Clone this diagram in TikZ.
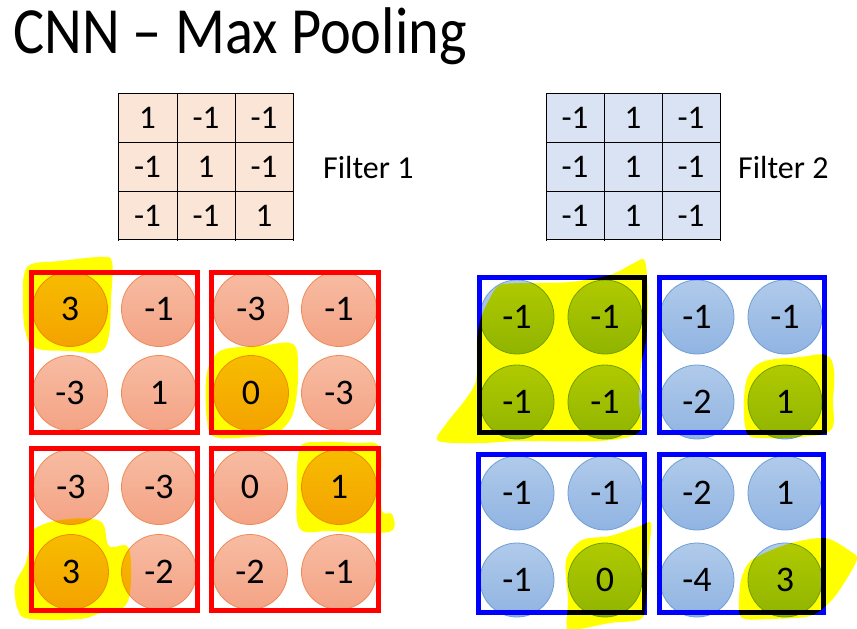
\documentclass[tikz,border=0pt]{standalone}
\usepackage{fontspec}
\setmainfont{Carlito}
\definecolor{rctop}{HTML}{F7BCA2}
\definecolor{rcbot}{HTML}{F4A385}
\definecolor{rcline}{HTML}{EE8A55}
\definecolor{bctop}{HTML}{B0CAEA}
\definecolor{bcbot}{HTML}{90B4E2}
\definecolor{bcline}{HTML}{6E9FD6}
\definecolor{f1fill}{HTML}{FBE5D6}
\definecolor{f2fill}{HTML}{DAE3F3}
\definecolor{hlyellow}{HTML}{FFFF00}
\tikzset{
  rc/.style={circle, minimum size=75pt, inner sep=0pt, draw=rcline, line width=0.8pt,
    top color=rctop, bottom color=rcbot, font=\fontsize{36}{36}\selectfont},
  bc/.style={circle, minimum size=74pt, inner sep=0pt, draw=bcline, line width=0.8pt,
    top color=bctop, bottom color=bcbot, font=\fontsize{36}{36}\selectfont},
  rbox/.style={draw=red, line width=5pt},
  bbox/.style={draw=blue, line width=5pt},
  hl/.style={fill=hlyellow, blend mode=multiply},
  fnum/.style={inner sep=0pt, font=\fontsize{33}{33}\selectfont},
  flabel/.style={inner sep=0pt, anchor=west, font=\fontsize{32}{32}\selectfont},
  gridline/.style={draw=black, line width=1pt},
}
\begin{document}
\begin{tikzpicture}[x=1pt, y=-1pt]
\useasboundingbox (0,0) rectangle (857,629);
\fill[white] (0,0) rectangle (857,629);

% title
\node[anchor=base west, inner sep=0pt, font=\fontsize{66}{66}\selectfont] (title) at (13,53) {\scalebox{0.885}[1]{CNN – Max Pooling}};

% filter 1
\fill[f1fill] (118,93) rectangle (293,239);
\foreach \yy in {93,142,191,239} \draw[gridline] (118,\yy) -- (293,\yy);
\foreach \xx in {118,177,235,293} \draw[gridline] (\xx,93) -- (\xx,241);
\node[fnum] (fa11) at (147.5,118) {1};
\node[fnum] (fa12) at (206,118) {-1};
\node[fnum] (fa13) at (264,118) {-1};
\node[fnum] (fa21) at (147.5,167) {-1};
\node[fnum] (fa22) at (206,167) {1};
\node[fnum] (fa23) at (264,167) {-1};
\node[fnum] (fa31) at (147.5,215.5) {-1};
\node[fnum] (fa32) at (206,215.5) {-1};
\node[fnum] (fa33) at (264,215.5) {1};
\node[flabel] (f1lab) at (323,168) {Filter 1};

% filter 2
\fill[f2fill] (546,93) rectangle (720,239);
\foreach \yy in {93,142,191,239} \draw[gridline] (546,\yy) -- (720,\yy);
\foreach \xx in {546,604,662,720} \draw[gridline] (\xx,93) -- (\xx,241);
\node[fnum] (fb11) at (575,118) {-1};
\node[fnum] (fb12) at (633,118) {1};
\node[fnum] (fb13) at (691,118) {-1};
\node[fnum] (fb21) at (575,167) {-1};
\node[fnum] (fb22) at (633,167) {1};
\node[fnum] (fb23) at (691,167) {-1};
\node[fnum] (fb31) at (575,215.5) {-1};
\node[fnum] (fb32) at (633,215.5) {1};
\node[fnum] (fb33) at (691,215.5) {-1};
\node[flabel] (f2lab) at (738,168) {Filter 2};

% red circles
\node[rc] (r11) at (70,309) {3};
\node[rc] (r12) at (159,309) {-1};
\node[rc] (r13) at (251,309) {-3};
\node[rc] (r14) at (339,309) {-1};
\node[rc] (r21) at (70,393) {-3};
\node[rc] (r22) at (159,393) {1};
\node[rc] (r23) at (251,393) {0};
\node[rc] (r24) at (339,393) {-3};
\node[rc] (r31) at (71,487) {-3};
\node[rc] (r32) at (159,487) {-3};
\node[rc] (r33) at (250,487) {0};
\node[rc] (r34) at (339,487) {1};
\node[rc] (r41) at (71,572) {3};
\node[rc] (r42) at (159,572) {-2};
\node[rc] (r43) at (250,572) {-2};
\node[rc] (r44) at (339,572) {-1};

% blue circles
\node[bc] (b11) at (517,317) {-1};
\node[bc] (b12) at (605,317) {-1};
\node[bc] (b13) at (697,317) {-1};
\node[bc] (b14) at (785,317) {-1};
\node[bc] (b21) at (517,402) {-1};
\node[bc] (b22) at (605,402) {-1};
\node[bc] (b23) at (697,402) {-2};
\node[bc] (b24) at (785,402) {1};
\node[bc] (b31) at (517,493) {-1};
\node[bc] (b32) at (605,493) {-1};
\node[bc] (b33) at (697,493) {-2};
\node[bc] (b34) at (785,493) {1};
\node[bc] (b41) at (517,580) {-1};
\node[bc] (b42) at (605,580) {0};
\node[bc] (b43) at (697,580) {-4};
\node[bc] (b44) at (785,580) {3};

% pooling boxes
\draw[rbox] (31.5,272.5) rectangle (197.5,432.5);
\draw[rbox] (211.5,272.5) rectangle (378.5,432.5);
\draw[rbox] (31.5,448.5) rectangle (197.5,610.5);
\draw[rbox] (211.5,448.5) rectangle (378.5,610.5);
\draw[bbox] (479.5,277.5) rectangle (644.5,432.5);
\draw[bbox] (659.5,277.5) rectangle (824.5,432.5);
\draw[bbox] (478.5,454.5) rectangle (644.5,612.5);
\draw[bbox] (659.5,454.5) rectangle (823.5,612.5);

% highlighter marks
\fill[hl] plot[smooth cycle, tension=0.6] coordinates {(24,275) (32,264) (60,261) (100,257) (112,262) (111,300) (109,335) (100,352) (70,351) (35,348) (25,330) (23,300)};
\fill[hl] plot[smooth cycle, tension=0.6] coordinates {(212,360) (225,349) (260,346) (293,344) (298,370) (296,400) (290,420) (276,433) (250,437) (215,437) (207,420) (206,380)};
\fill[hl] plot[smooth cycle, tension=0.6] coordinates {(300,448) (320,442) (355,443) (379,446) (381,480) (382,511) (392,514) (393,530) (370,533) (330,531) (300,529) (297,490)};
\fill[hl] plot[smooth cycle, tension=0.6] coordinates {(33,530) (60,520) (100,521) (109,546) (128,547) (131,580) (125,606) (100,613) (80,619) (30,619) (18,610) (15,585) (25,565) (30,545)};
\fill[hl] plot[smooth cycle, tension=0.5] coordinates {(438,441) (446,424) (465,400) (476,380) (477,340) (481,318) (489,300) (500,285) (530,283) (570,282) (610,275) (634,263) (645,261) (648,300) (646,340) (641,365) (639,400) (639,432) (600,441) (520,441) (480,443)};
\fill[hl] plot[smooth cycle, tension=0.6] coordinates {(749,374) (765,361) (800,357) (826,355) (834,370) (833,400) (831,430) (800,437) (765,438) (747,433) (744,400)};
\fill[hl] plot[smooth cycle, tension=0.5] coordinates {(567,629) (568,600) (566,560) (582,540) (610,536) (640,526) (651,523) (649,550) (646,600) (641,619) (610,623) (580,629)};
\fill[hl] plot[smooth cycle, tension=0.5] coordinates {(739,611) (741,580) (752,560) (788,544) (825,538) (850,551) (857,559) (846,580) (831,601) (810,616) (770,619) (745,619)};
\end{tikzpicture}
\end{document}
